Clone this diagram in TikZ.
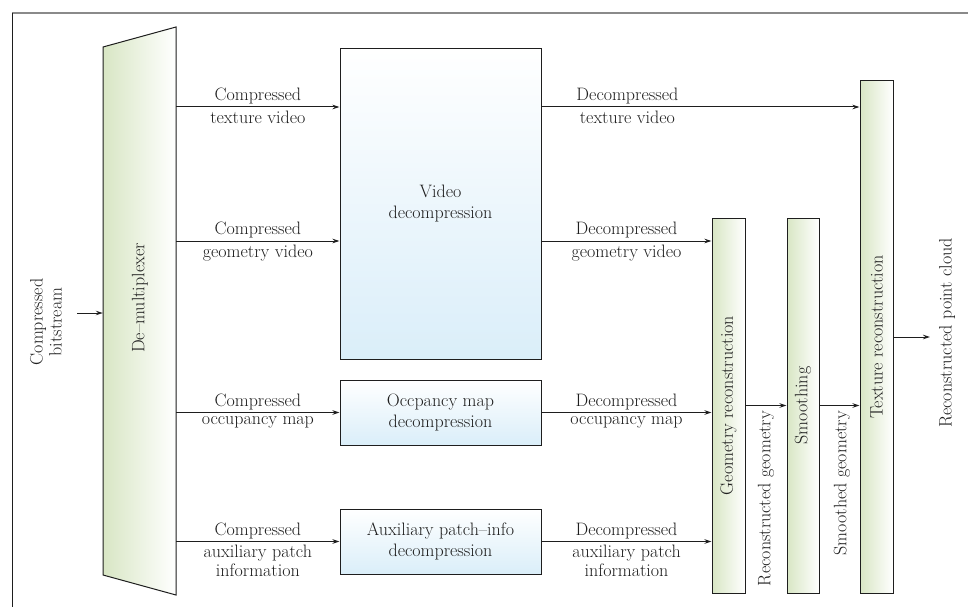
\documentclass[tikz,border=0pt]{standalone}
\usetikzlibrary{arrows.meta}
\definecolor{inkc}{HTML}{1E1E1E}
\definecolor{greenL}{HTML}{D8E6C4}
\definecolor{blueB}{HTML}{DAEEF9}
\definecolor{frameT}{HTML}{8A8A8A}
\begin{document}
\begin{tikzpicture}[x=1pt,y=-1pt,
  every node/.style={text=inkc,font=\fontsize{18}{21}\selectfont},
  conn/.style={draw=inkc,line width=1pt},
  arr/.style={conn,-{Stealth[length=7pt,width=4.5pt]}},
  bar/.style={draw=inkc,line width=1pt,shading=axis,left color=greenL,right color=white,inner sep=0pt},
  decbox/.style={draw=inkc,line width=1pt,shading=axis,top color=white,bottom color=blueB,
    minimum width=201pt,inner sep=0pt,align=center},
  lbl/.style={align=center,inner sep=2pt},
  up/.style={lbl,above},
  dn/.style={lbl,below,inner sep=3.5pt}]
\useasboundingbox (0,0) rectangle (968,607);
\fill[white] (0,0) rectangle (968,607);
% frame
\draw[frameT,line width=1.5pt] (12,13) -- (968,13);
\draw[inkc,line width=1pt] (12,13) -- (12,607);

% de-multiplexer (trapezoid)
\shade[left color=greenL,right color=white] (103,47) -- (176,27) -- (176,595) -- (103,575) -- cycle;
\draw[inkc,line width=1pt] (103,47) -- (176,27) -- (176,595) -- (103,575) -- cycle;
\node[minimum width=73pt,minimum height=568pt,inner sep=0pt] (demux) at (139.5,311) {};
\node[rotate=90] (demuxt) at (140,298) {De--multiplexer};

% input
\coordinate (inp) at (77,313);
\node[rotate=90,align=center,lbl] (bits) at (46,322) {Compressed\\[-2pt]bitstream};
\draw[arr] (inp) -- (inp -| demux.west);

% decompression boxes
\node[decbox,minimum height=310pt] (vid) at (440.5,204) {Video\\decompression};
\node[decbox,minimum height=65pt] (occ) at (440.5,412.5) {Occpancy map\\decompression};
\node[decbox,minimum height=65pt] (aux) at (440.5,541.5) {Auxiliary patch--info\\decompression};

% reconstruction bars
\node[bar,minimum width=33pt,minimum height=375pt] (geo) at (728.5,405.5) {};
\node[rotate=90] at (geo) {Geometry reconstruction};
\node[bar,minimum width=32pt,minimum height=375pt] (smo) at (803,405.5) {};
\node[rotate=90] at (smo) {Smoothing};
\node[bar,minimum width=33pt,minimum height=512pt] (tex) at (876.5,337) {};
\node[rotate=90] at (tex) {Texture reconstruction};

% demux -> decoders
\coordinate (yt) at (0,107);
\coordinate (yg) at (0,241);
\draw[arr] (demux.east |- yt) -- node[up]{Compressed} node[dn]{texture video} (vid.west |- yt);
\draw[arr] (demux.east |- yg) -- node[up]{Compressed} node[dn]{geometry video} (vid.west |- yg);
\draw[arr] (demux.east |- occ.west) -- node[up]{Compressed} node[dn]{occupancy map} (occ.west);
\draw[arr] (demux.east |- aux.west) -- node[up]{Compressed} node[dn]{auxiliary patch\\[-2pt]information} (aux.west);

% decoders -> reconstruction
\draw[arr] (vid.east |- yt) -- node[up,pos=0.27]{Decompressed} node[dn,pos=0.27]{texture video} (tex.west |- yt);
\draw[arr] (vid.east |- yg) -- node[up]{Decompressed} node[dn]{geometry video} (geo.west |- yg);
\draw[arr] (occ.east) -- node[up]{Decompressed} node[dn]{occupancy map} (occ.east -| geo.west);
\draw[arr] (aux.east) -- node[up]{Decompressed} node[dn]{auxiliary patch\\[-2pt]information} (aux.east -| geo.west);

% reconstruction chain
\draw[arr] (geo.east) -- (smo.west);
\node[rotate=90,anchor=east,inner sep=0pt] (rg) at (766,411) {Reconstructed geometry};
\draw[arr] (smo.east) -- (smo.east -| tex.west);
\node[rotate=90,anchor=east,inner sep=0pt] (sg) at (842,411) {Smoothed geometry};

% output
\coordinate (outp) at (930,337);
\draw[arr] (tex.east) -- (outp);
\node[rotate=90] (rpc) at (947,333) {Reconstructed point cloud};
\end{tikzpicture}
\end{document}
